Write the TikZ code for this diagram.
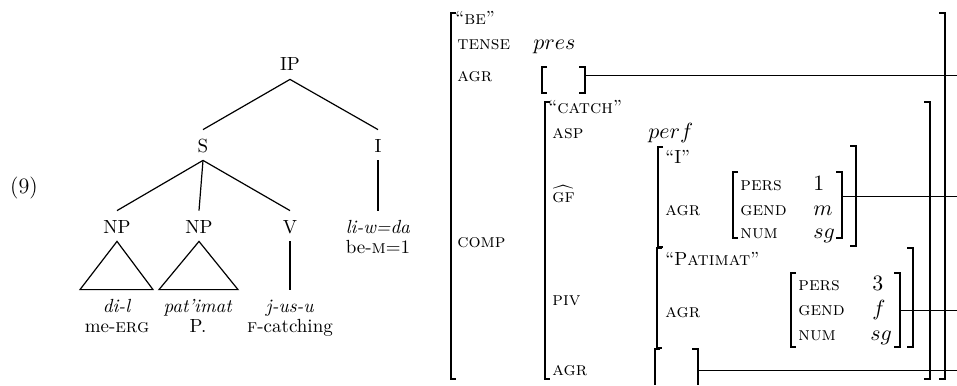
\documentclass[tikz,border=0pt]{standalone}
\usetikzlibrary{calc}
\begin{document}
\begin{tikzpicture}[x=0.5pt,y=-0.5pt,
 every node/.style={font=\fontsize{9.5}{11}\selectfont, inner sep=0pt},
 cat/.style={anchor=base, text height=7pt, text depth=0pt, inner xsep=1pt, inner ysep=4pt},
 gloss/.style={anchor=base},
 lab/.style={anchor=base west},
 val/.style={anchor=base west, font=\fontsize{11}{13}\selectfont},
 treeline/.style={line width=0.6pt},
 brk/.style={line width=0.9pt},
 conn/.style={line width=0.5pt},
]
\useasboundingbox (0,0) rectangle (957,385);

% ---------- tree ----------
\node[gloss, font=\fontsize{11}{13}\selectfont] (ex) at (24,193) {(9)};
\node[cat] (IP) at (290,71) {IP};
\node[cat] (S) at (203,152) {S};
\node[cat] (I) at (378,152) {I};
\node[cat] (NPa) at (117,233) {NP};
\node[cat] (NPb) at (199,233) {NP};
\node[cat] (V) at (290,233) {V};
\node[cat] (liw) at (378,233) {\textit{li-w=da}};
\node[gloss] (bem) at (378,253) {be-\textsc{m}=1};
\node[cat] (dil) at (117,312) {\textit{di-l}};
\node[gloss] (meerg) at (117,332) {me-\textsc{erg}};
\node[cat] (pat) at (198,312) {\textit{pat'imat}};
\node[gloss] (pp) at (198,332) {P.};
\node[cat] (jus) at (290,312) {\textit{j-us-u}};
\node[gloss] (fcat) at (290,332) {\textsc{f}-catching};

\draw[treeline] (IP.south) -- (S.north);
\draw[treeline] (IP.south) -- (I.north);
\draw[treeline] (S.south) -- (NPa.north);
\draw[treeline] (S.south) -- (NPb.north);
\draw[treeline] (S.south) -- (V.north);
\draw[treeline] (I.south) -- (liw.north);
\draw[treeline] (V.south) -- (jus.north);
\draw[treeline] (NPa.south) -- ($(dil.north)+(-37,0)$) -- ($(dil.north)+(36,0)$) -- cycle;
\draw[treeline] (NPb.south) -- ($(pat.north)+(-39,0)$) -- ($(pat.north)+(40,0)$) -- cycle;

% ---------- AVM text ----------
\node[lab] (be) at (455,25) {``\textsc{be}''};
\node[lab] (tense) at (457,50) {\textsc{tense}};
\node[val] (pres) at (533,50) {$pres$};
\node[lab] (agrA) at (457,82) {\textsc{agr}};
\node[lab] (comp) at (457,247) {\textsc{comp}};
\node[lab] (catch) at (548,113) {``\textsc{catch}''};
\node[lab] (asp) at (552,138) {\textsc{asp}};
\node[val] (perf) at (648,138) {$perf$};
\node[lab] (gf) at (552,202) {$\widehat{\mbox{\textsc{gf}}}$};
\node[lab] (piv) at (552,305) {\textsc{piv}};
\node[lab] (agrB) at (552,375) {\textsc{agr}};
\node[lab] (iq) at (665,163) {``I''};
\node[lab] (agrC) at (665,215) {\textsc{agr}};
\node[lab] (persA) at (740,190) {\textsc{pers}};
\node[val] (one) at (813,190) {$1$};
\node[lab] (gendA) at (740,215) {\textsc{gend}};
\node[val] (mm) at (813,215) {$m$};
\node[lab] (numA) at (740,238) {\textsc{num}};
\node[val] (sgA) at (813,238) {$sg$};
\node[lab] (patq) at (665,265) {``P\textsc{atimat}''};
\node[lab] (agrD) at (665,317) {\textsc{agr}};
\node[lab] (persB) at (798,290) {\textsc{pers}};
\node[val] (three) at (872,290) {$3$};
\node[lab] (gendB) at (798,315) {\textsc{gend}};
\node[val] (ff) at (872,315) {$f$};
\node[lab] (numB) at (798,340) {\textsc{num}};
\node[val] (sgB) at (870,340) {$sg$};

% ---------- brackets ----------
% outer
\draw[brk] (456,13) -- (451,13) -- (451,379) -- (456,379);
\draw[brk] (939,13) -- (945,13) -- (945,379) -- (939,379);
% empty AGR
\draw[brk] (547,67) -- (542,67) -- (542,93) -- (547,93);
\draw[brk] (579,67) -- (585,67) -- (585,93) -- (579,93);
% CATCH
\draw[brk] (550,102) -- (545,102) -- (545,379) -- (550,379);
\draw[brk] (924,102) -- (930,102) -- (930,379) -- (924,379);
% I
\draw[brk] (663,147) -- (658,147) -- (658,247) -- (663,247);
\draw[brk] (850,146) -- (856,146) -- (856,246) -- (850,246);
% features 1
\draw[brk] (738,172) -- (733,172) -- (733,238) -- (738,238);
\draw[brk] (836,172) -- (842,172) -- (842,238) -- (836,238);
% Patimat
\draw[brk] (662,248) -- (657,248) -- (657,348) -- (662,348);
\draw[brk] (907,248) -- (913,248) -- (913,347) -- (907,347);
% features 2
\draw[brk] (796,273) -- (791,273) -- (791,347) -- (796,347);
\draw[brk] (894,273) -- (900,273) -- (900,347) -- (894,347);
% bottom empty AGR
\draw[brk] (660,349) -- (655,349) -- (655,385);
\draw[brk] (692,349) -- (698,349) -- (698,385);

% ---------- connectors ----------
\coordinate (cA) at (585,76);  \coordinate (eA) at (957,76);
\coordinate (cB) at (842,196); \coordinate (eB) at (957,196);
\coordinate (cC) at (900,310); \coordinate (eC) at (957,310);
\coordinate (cD) at (698,370); \coordinate (eD) at (957,370);
\draw[conn] (cA) -- (eA);
\draw[conn] (cB) -- (eB);
\draw[conn] (cC) -- (eC);
\draw[conn] (cD) -- (eD);
\end{tikzpicture}
\end{document}
